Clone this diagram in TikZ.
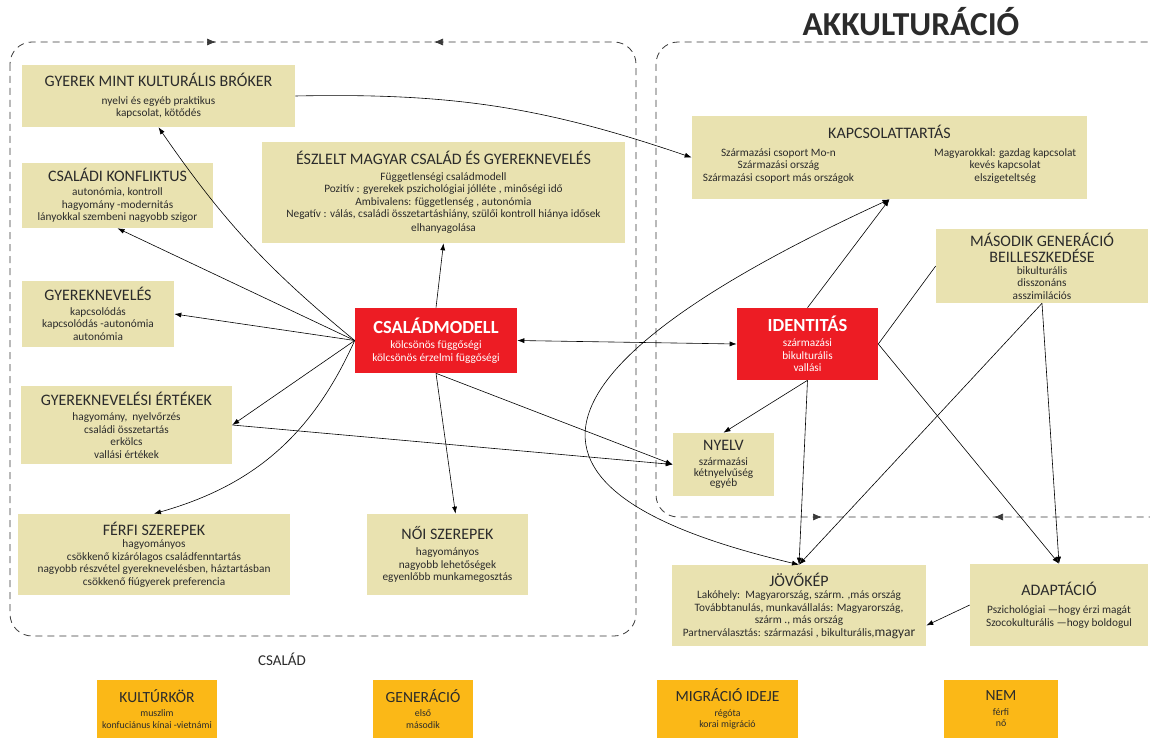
\documentclass[tikz,border=0pt]{standalone}
\usepackage{fontspec}
\setmainfont{Carlito}
\usetikzlibrary{arrows.meta}

\definecolor{boxbeige}{HTML}{E9E2B0}
\definecolor{boxred}{HTML}{ED1C24}
\definecolor{boxorange}{HTML}{FBB817}
\definecolor{inkgray}{HTML}{2B2B2B}
\definecolor{framegray}{HTML}{3A3A3A}

\newcommand{\bxhead}[1]{{\fontsize{16}{18}\selectfont #1}}
\newcommand{\bxbody}{\fontsize{11.3}{12.5}\selectfont}

\tikzset{
  infobox/.style={fill=boxbeige, text=inkgray, align=center, inner sep=1pt, font=\bxbody},
  keybox/.style={fill=boxred, text=white, align=center, inner sep=1pt, font=\bxbody},
  factorbox/.style={fill=boxorange, text=inkgray, align=center, inner sep=1pt,
    font=\fontsize{9.9}{11.5}\selectfont},
  regionframe/.style={draw=framegray, line width=0.8pt, dash pattern=on 7pt off 5pt,
    rounded corners=22pt},
  frametip/.style={draw=framegray, -{Latex[length=9pt,width=7pt]}}
}

\begin{document}
\begin{tikzpicture}[x=1pt, y=-1pt, >={Latex[length=7pt,width=5pt]}, line width=0.6pt]
  \useasboundingbox (0,0) rectangle (1150,738);

  % the two regions
  \draw[regionframe] (10,42) rectangle (636,636);
  \draw[regionframe] (656,42) rectangle (1172,517);
  \draw[frametip] (214,42) -- (216,42);
  \draw[frametip] (436,42) -- (434,42);
  \draw[frametip] (820,517) -- (822,517);
  \draw[frametip] (996,517) -- (994,517);

  \node[font=\fontsize{33.5}{35}\selectfont\bfseries, text=inkgray] (akkult) at (911,22) {AKKULTURÁCIÓ};
  \node[font=\fontsize{15}{17}\selectfont, text=inkgray] (csaladlbl) at (282,659) {CSALÁD};

  % family side
  \node[infobox, minimum width=273pt, minimum height=62pt] (broker) at (158.5,96)
    {\bxhead{GYEREK MINT KULTURÁLIS BRÓKER}\\[5pt] nyelvi és egyéb praktikus\\ kapcsolat, kötődés};
  \node[infobox, minimum width=191pt, minimum height=65pt] (konflikt) at (117.5,195.5)
    {\bxhead{CSALÁDI KONFLIKTUS}\\[2pt] autonómia, kontroll\\ hagyomány -modernitás\\ lányokkal szembeni nagyobb szigor};
  \node[infobox, minimum width=363pt, minimum height=101pt] (eszlelt) at (443.5,192.5)
    {\bxhead{ÉSZLELT MAGYAR CSALÁD ÉS GYEREKNEVELÉS}\\[3pt] Függetlenségi családmodell\\
     Pozitív : gyerekek pszichológiai jólléte , minőségi idő\\ Ambivalens: függetlenség , autonómia\\
     Negatív : válás, családi összetartáshiány, szülői kontroll hiánya idősek\\[1pt] elhanyagolása};
  \node[infobox, minimum width=152pt, minimum height=66pt] (neveles) at (98,314)
    {\bxhead{GYEREKNEVELÉS}\\[2pt] kapcsolódás\\ kapcsolódás -autonómia\\ autonómia};
  \node[infobox, minimum width=211pt, minimum height=78pt] (ertekek) at (126.5,425)
    {\bxhead{GYEREKNEVELÉSI ÉRTÉKEK}\\[3pt] hagyomány,\ \ nyelvőrzés\\ családi összetartás\\ erkölcs\\ vallási értékek};
  \node[infobox, minimum width=272pt, minimum height=81pt] (ferfi) at (154,554.5)
    {\bxhead{FÉRFI SZEREPEK}\\ hagyományos\\ csökkenő kizárólagos családfenntartás\\
     nagyobb részvétel gyereknevelésben, háztartásban\\ csökkenő fiúgyerek preferencia};
  \node[infobox, minimum width=161pt, minimum height=81pt] (noi) at (447.5,554.5)
    {\bxhead{NŐI SZEREPEK}\\[4pt] hagyományos\\ nagyobb lehetőségek\\ egyenlőbb munkamegosztás};
  \node[keybox, minimum width=162pt, minimum height=65pt] (csmodell) at (436,340.5)
    {{\fontsize{18.5}{20}\selectfont\bfseries CSALÁDMODELL}\\[3pt] kölcsönös függőségi\\ kölcsönös érzelmi függőségi};

  % acculturation side
  \node[infobox, minimum width=395pt, minimum height=83pt] (kapcs) at (889.5,157.5)
    {\bxhead{KAPCSOLATTARTÁS}\\[8pt]
     \begin{tabular}{@{}c@{\hspace{80pt}}c@{}}
       Származási csoport Mo-n & Magyarokkal: gazdag kapcsolat\\
       Származási ország & kevés kapcsolat\\
       Származási csoport más országok & elszigeteltség
     \end{tabular}\\[4pt]};
  \node[infobox, minimum width=212pt, minimum height=74pt] (masodik) at (1042,266)
    {\bxhead{MÁSODIK GENERÁCIÓ}\\[2pt] \bxhead{BEILLESZKEDÉSE}\\[-1pt] bikulturális\\ disszonáns\\ asszimilációs};
  \node[keybox, minimum width=141pt, minimum height=72pt] (ident) at (807.5,344)
    {{\fontsize{18.5}{20}\selectfont\bfseries IDENTITÁS}\\[3pt] származási\\ bikulturális\\ vallási};
  \node[infobox, minimum width=101pt, minimum height=63pt] (nyelv) at (723.5,464.5)
    {\bxhead{NYELV}\\[3pt] származási\\[-2pt] kétnyelvűség\\[-2pt] egyéb};
  \node[infobox, minimum width=254pt, minimum height=81pt] (jovo) at (799,605.5)
    {\bxhead{JÖVŐKÉP}\\ Lakóhely:\ \ Magyarország, szárm. ,más ország\\
     Továbbtanulás, munkavállalás: Magyarország,\\ szárm ., más ország\\
     Partnerválasztás: származási , bikulturális,{\fontsize{13.5}{12}\selectfont magyar}};
  \node[infobox, minimum width=178pt, minimum height=82pt] (adapt) at (1059,605)
    {\bxhead{ADAPTÁCIÓ}\\[6pt] Pszichológiai —hogy érzi magát\\ Szocokulturális —hogy boldogul};

  % background factors
  \foreach \nm/\cx/\bw/\ttl/\bdy in {kultur/157/120/KULTÚRKÖR/{muszlim\\konfuciánus kínai -vietnámi},
      gener/423/100/GENERÁCIÓ/{első\\második},
      migr/727.5/141/MIGRÁCIÓ IDEJE/{régóta\\korai migráció},
      nem/1001/114/NEM/{férfi\\nő}}
    \node[factorbox, minimum width=\bw pt, minimum height=58pt] (\nm) at (\cx,709)
      {{\fontsize{15.5}{17}\selectfont\ttl}\\[3pt]\bdy};

  % connectors
  \draw[->] (csmodell.west) to[bend left=8] (broker.south);
  \draw[->] (csmodell.west) -- (konflikt.south);
  \draw[->] (csmodell.west) -- (neveles.east);
  \draw[->] (csmodell.west) -- (ertekek.east);
  \draw[->] (csmodell.west) to[bend left=25] (ferfi.north);
  \draw[->] (csmodell.north) -- (eszlelt.south);
  \draw[->] (csmodell.south) -- ([xshift=8pt]noi.north);
  \draw[->] (csmodell.south) -- (nyelv.west);
  \draw[->] (ertekek.east) -- (nyelv.west);
  \draw[<->] (csmodell.east) -- (ident.west);
  \draw[->] (broker.east) to[bend left=10] (kapcs.west);
  \draw[->] (ident.north) -- (kapcs.south);
  \draw[<->] (kapcs.south) .. controls (379,434) and (632,525) .. (jovo.north);
  \draw[->] (ident.south) -- (nyelv.north);
  \draw[->] (ident.south) -- (jovo.north);
  \draw (ident.east) -- (masodik.west);
  \draw[->] (ident.east) -- (adapt.north);
  \draw[->] (masodik.south) -- (jovo.north);
  \draw[->] (masodik.south) -- (adapt.north);
  \draw[->] (adapt.west) -- ([yshift=-20pt]jovo.east);
\end{tikzpicture}
\end{document}
